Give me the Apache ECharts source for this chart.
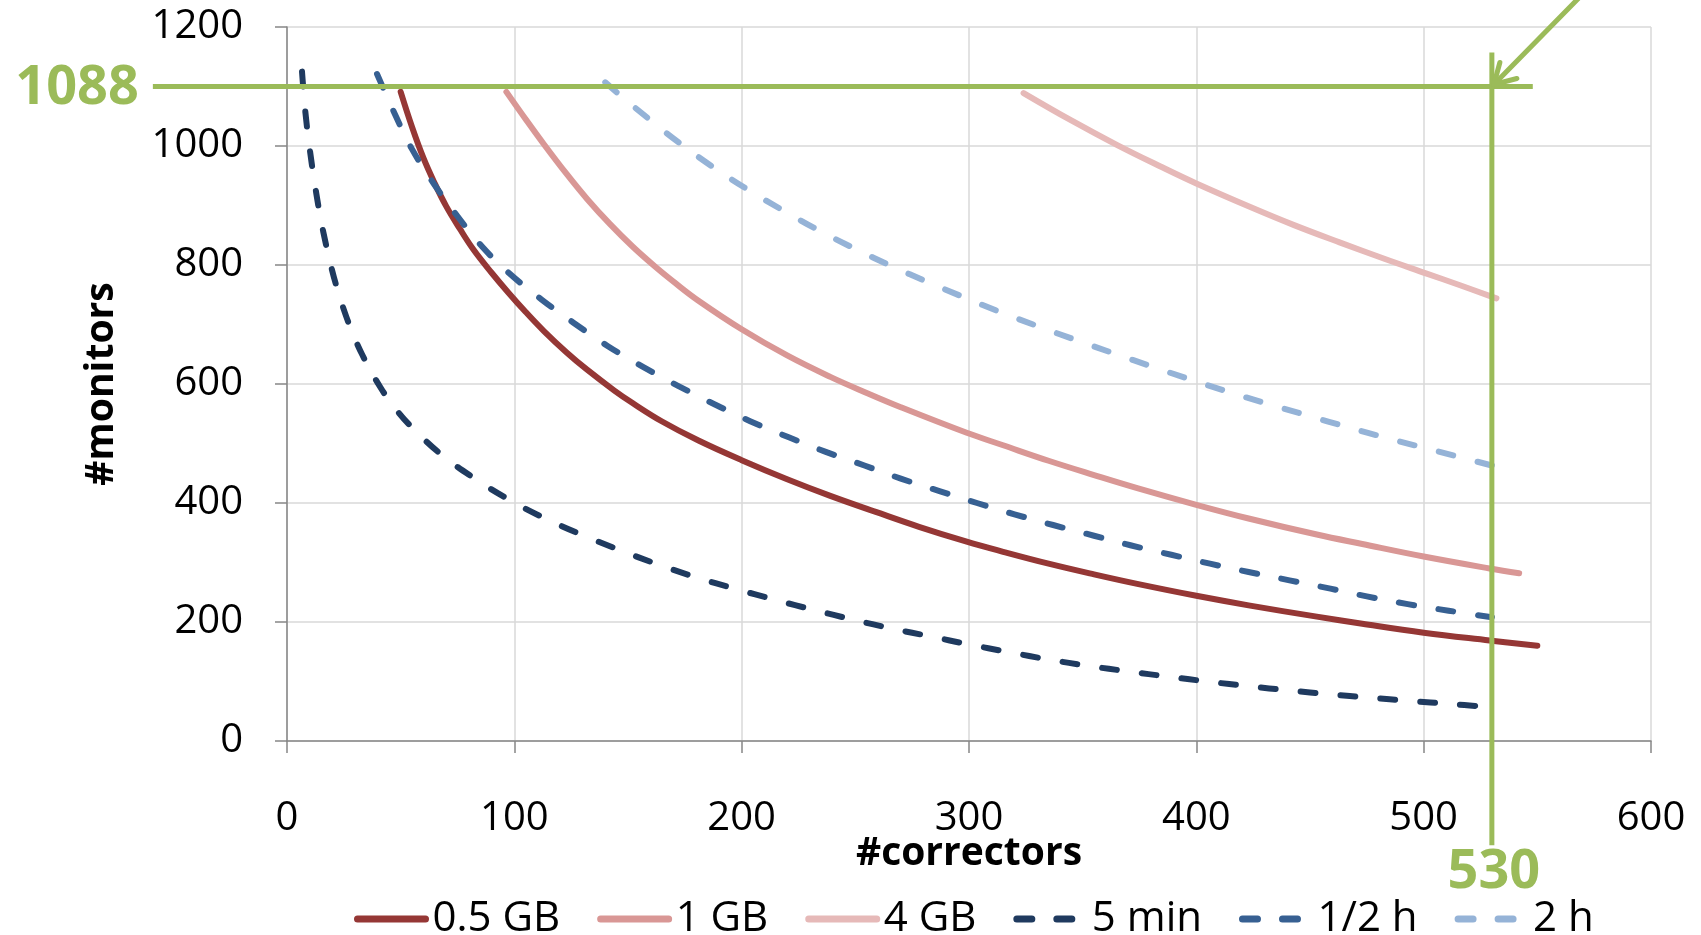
<!DOCTYPE html>
<html>
<head>
<meta charset="utf-8">
<script src="https://cdn.jsdelivr.net/npm/echarts@6/dist/echarts.min.js"></script>
<style>
html,body{margin:0;padding:0;background:#fff;}
#main{width:1701px;height:935px;}
</style>
</head>
<body>
<div id="main"></div>
<script>
// ---- data ----
const seriesNames = ['0.5 GB', '1 GB', '4 GB', '5 min', '1/2 h', '2 h'];

const gb05_x = [50, 55, 60, 65, 70, 76, 82, 90, 97.5, 105, 113, 123, 132, 144, 152, 165, 181, 200, 220, 239, 259, 278, 299, 315, 335, 355, 374, 400, 423, 453, 473, 500, 529, 550];
const gb05_y = [1091, 1032, 980, 937, 899, 861, 826, 787, 753, 721, 689, 653, 624, 589, 568, 537, 505, 472, 440, 412, 385, 360, 335, 318, 298, 280, 264, 244, 228, 209, 197, 182, 169, 160];

const gb1_x = [96.5, 105, 113, 123, 132, 142, 152, 162, 171, 181, 200, 220, 239, 255, 270, 299, 315, 335, 355, 374, 400, 423, 453, 473, 500, 529, 542];
const gb1_y = [1091, 1045, 1003, 953, 911, 869, 831, 797, 769, 740, 692, 648, 612, 585, 561, 518, 497, 471, 447, 425, 397, 374, 347, 331, 310, 290, 282];

const gb4_x = [324, 345, 365, 384, 400, 424, 443, 463, 483, 501, 516, 532];
const gb4_y = [1089, 1043, 1002, 966, 937, 897, 867, 838, 810, 786, 766, 744];

const min5_x = [6.6, 8, 10, 12, 14, 16, 19, 22, 25, 28, 33, 41, 48, 55, 68, 83, 98, 113, 130, 147, 163, 180, 197, 215, 232, 249, 266, 284, 299, 318, 335, 353, 370, 388, 406, 423, 441, 459, 476, 494, 512, 530];
const min5_y = [1125, 1060, 995, 942, 895, 855, 804, 761, 725, 694, 650, 595, 557, 527, 481, 440, 405, 375, 346, 320, 297, 275, 256, 237, 220, 204, 189, 175, 163, 149, 137, 126, 117, 108, 99.5, 92, 85, 78.5, 73, 67.5, 62, 57];

const h05_x = [39.6, 48, 54.8, 64.5, 75, 85.8, 97.5, 112, 126, 141, 156, 172, 188, 204, 221, 237, 254, 270, 287, 303.5, 320, 337, 355, 371, 389, 406, 423, 441, 459, 475, 493, 511, 530];
const h05_y = [1121, 1049, 996, 937, 882, 831, 787, 742, 703, 664, 630, 597, 566, 537, 510, 486, 463, 441, 420, 400, 381, 363, 345, 329, 313, 298, 284, 270, 256, 243, 230, 219, 208];

const h2_x = [140, 146, 160, 173, 188, 203, 219, 234, 250, 266, 282, 297, 313, 331, 347, 364, 380, 397, 413, 431, 449, 467, 484, 502, 518, 530];
const h2_y = [1107, 1087, 1043, 1004, 963, 926, 890, 858, 827, 798, 771, 747, 722, 696, 674, 651, 630, 608, 588, 567, 547, 527, 509, 491, 475, 463];

const xTicks = [0, 100, 200, 300, 400, 500, 600];
const yTicks = [0, 200, 400, 600, 800, 1000, 1200];

// annotation values
const markY = 1100;      // horizontal guide (labelled 1088)
const markYLabel = '1088';
const markX = 530;
const markXLabel = '530';

// ---- styling ----
const colors = ['#953735', '#D99795', '#E6B9B8', '#1F3A5F', '#376092', '#95B3D7'];
const green = '#9BBB59';
const FONT = 'Open Sans';

function pairs(xs, ys) { return xs.map((x, i) => [x, ys[i]]); }
const allData = [pairs(gb05_x, gb05_y), pairs(gb1_x, gb1_y), pairs(gb4_x, gb4_y),
                 pairs(min5_x, min5_y), pairs(h05_x, h05_y), pairs(h2_x, h2_y)];
const dashed = [false, false, false, true, true, true];

const chart = echarts.init(document.getElementById('main'), null, {renderer: 'canvas'});

const option = {
  animation: false,
  backgroundColor: '#fff',
  grid: {left: 287, right: 50, top: 27, bottom: 194, containLabel: false},
  xAxis: {
    type: 'value', min: 0, max: 600, interval: 100,
    name: '#correctors', nameLocation: 'middle', nameGap: 93, nameMoveOverlap: false,
    nameTextStyle: {fontFamily: FONT, fontWeight: 'bold', fontSize: 39, color: '#000'},
    axisLine: {show: true, lineStyle: {color: '#868686', width: 1.5}},
    axisTick: {show: true, inside: false, length: 12, lineStyle: {color: '#868686', width: 1.5}},
    axisLabel: {fontFamily: FONT, fontSize: 40, color: '#000', margin: 58,
                formatter: v => xTicks.includes(v) ? String(v) : ''},
    splitLine: {show: true, lineStyle: {color: '#d9d9d9', width: 1.5}}
  },
  yAxis: {
    type: 'value', min: 0, max: 1200, interval: 200,
    name: '#monitors', nameLocation: 'middle', nameGap: 166, nameRotate: 90, nameMoveOverlap: false,
    nameTextStyle: {fontFamily: FONT, fontWeight: 'bold', fontSize: 39, color: '#000'},
    axisLine: {show: true, lineStyle: {color: '#868686', width: 1.5}},
    axisTick: {show: true, inside: false, length: 12, lineStyle: {color: '#868686', width: 1.5}},
    axisLabel: {fontFamily: FONT, fontSize: 40, color: '#000', margin: 44,
                formatter: v => yTicks.includes(v) ? String(v) : ''},
    splitLine: {show: true, lineStyle: {color: '#d9d9d9', width: 1.5}}
  },
  legend: {
    show: true, left: 349, top: 893, itemWidth: 68, itemHeight: 14, itemGap: 37,
    itemStyle: {opacity: 0},
    lineStyle: {width: 7},
    textStyle: {fontFamily: FONT, fontSize: 42, color: '#000', padding: [0, 0, 0, 2]},
    data: seriesNames
  },
  series: seriesNames.map((name, i) => ({
    name: name,
    type: 'line',
    data: allData[i],
    smooth: 0.4,
    showSymbol: false,
    symbol: 'none',
    color: colors[i],
    lineStyle: {
      color: colors[i],
      width: 6,
      type: dashed[i] ? [15, 25] : 'solid',
      cap: 'round',
      join: 'round'
    },
    z: 2
  }))
};

chart.setOption(option);

// ---- green annotations computed through the axes ----
const pInter = chart.convertToPixel({gridIndex: 0}, [markX, markY]);
const pLeft = chart.convertToPixel({gridIndex: 0}, [-59, markY]);
const pRight = chart.convertToPixel({gridIndex: 0}, [548, markY]);
const pTop = chart.convertToPixel({gridIndex: 0}, [markX, 1157]);
const pBot = chart.convertToPixel({gridIndex: 0}, [markX, -175]);

const LW = 5;
chart.setOption({
  graphic: [
    {type: 'line', shape: {x1: pLeft[0], y1: pLeft[1], x2: pRight[0], y2: pRight[1]},
     style: {stroke: green, lineWidth: LW}, z: 50},
    {type: 'line', shape: {x1: pTop[0], y1: pTop[1], x2: pBot[0], y2: pBot[1]},
     style: {stroke: green, lineWidth: LW}, z: 50},
    // arrow
    {type: 'line', shape: {x1: pInter[0] + 110, y1: pInter[1] - 112, x2: pInter[0] + 2, y2: pInter[1] - 2},
     style: {stroke: green, lineWidth: LW, lineCap: 'round'}, z: 51},
    {type: 'polyline', shape: {points: [[pInter[0] + 8, pInter[1] - 24], [pInter[0] + 2, pInter[1] - 2], [pInter[0] + 25, pInter[1] - 8]]},
     style: {stroke: green, lineWidth: LW, fill: null, lineCap: 'round', lineJoin: 'round'}, z: 51},
    {type: 'text', x: pLeft[0] - 14, y: pLeft[1] + 2,
     style: {text: markYLabel, fill: green, font: 'bold 54px "Open Sans"', textAlign: 'right', textVerticalAlign: 'middle'}, z: 52},
    {type: 'text', x: pBot[0] + 2, y: pBot[1] + 27,
     style: {text: markXLabel, fill: green, font: 'bold 54px "Open Sans"', textAlign: 'center', textVerticalAlign: 'middle'}, z: 52}
  ]
});
</script>
</body>
</html>
